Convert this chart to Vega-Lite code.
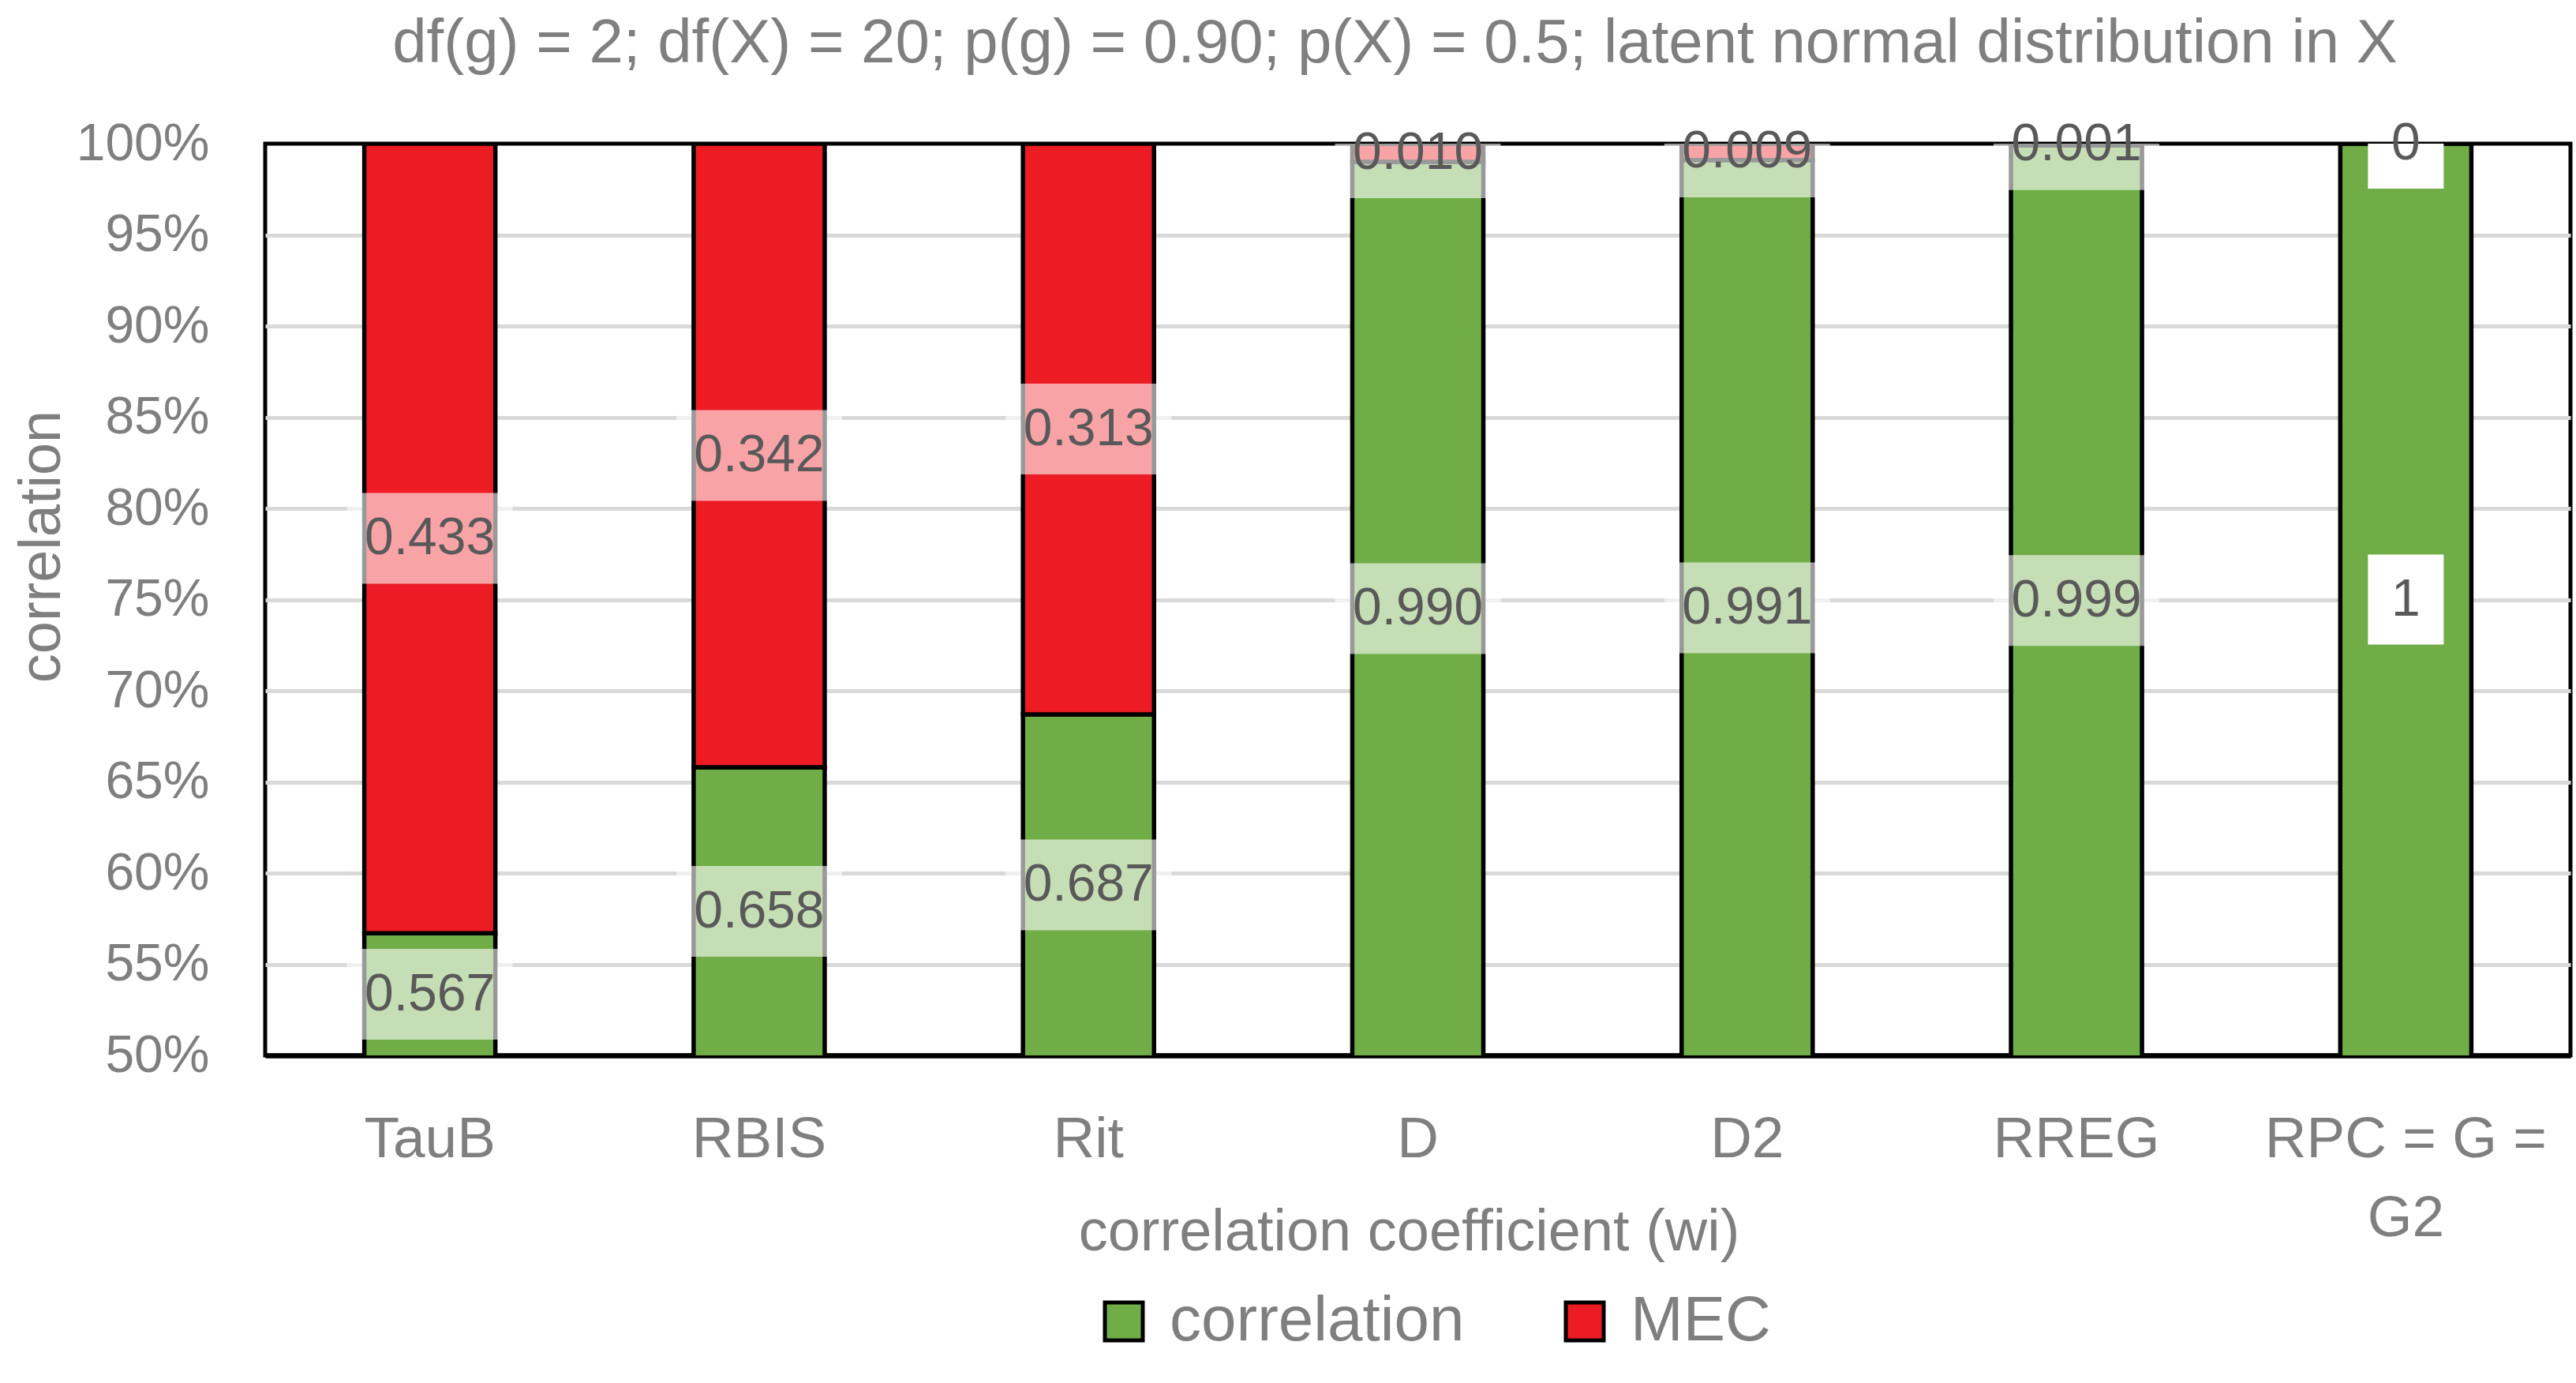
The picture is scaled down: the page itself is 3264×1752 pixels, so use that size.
{
  "$schema": "https://vega.github.io/schema/vega-lite/v6.json",
  "width": 2921,
  "height": 1155,
  "autosize": {"type": "none"},
  "padding": {"left": 336, "top": 182, "right": 7, "bottom": 415},
  "background": "white",
  "title": {
    "text": "df(g) = 2; df(X) = 20; p(g) = 0.90; p(X) = 0.5; latent normal distribution in X",
    "font": "Liberation Sans",
    "fontSize": 78,
    "fontWeight": "normal",
    "color": "#7f7f7f",
    "anchor": "middle",
    "baseline": "alphabetic",
    "offset": 60,
    "dx": -29,
    "dy": 68
  },
  "data": {
    "values": [
      {"coef": "TauB", "correlation": 0.567, "MEC": 0.433},
      {"coef": "RBIS", "correlation": 0.658, "MEC": 0.342},
      {"coef": "Rit", "correlation": 0.687, "MEC": 0.313},
      {"coef": "D", "correlation": 0.990, "MEC": 0.010},
      {"coef": "D2", "correlation": 0.991, "MEC": 0.009},
      {"coef": "RREG", "correlation": 0.999, "MEC": 0.001},
      {"coef": "RPC = G = G2", "correlation": 1, "MEC": 0}
    ]
  },
  "transform": [
    {"fold": ["correlation", "MEC"], "as": ["series", "value"]},
    {"stack": "value", "groupby": ["coef"], "sort": [{"field": "series", "order": "descending"}], "as": ["lo", "hi"]},
    {"calculate": "(max(datum.lo, 0.5) + datum.hi) / 2", "as": "mid"}
  ],
  "layer": [
    {
      "mark": {"type": "bar", "stroke": "black", "strokeWidth": 5.5, "clip": true},
      "encoding": {
        "x": {
          "field": "coef",
          "type": "nominal",
          "sort": null,
          "scale": {"paddingInner": 0.602, "paddingOuter": 0.301},
          "axis": {
            "title": "correlation coefficient (wi)",
            "labelAngle": 0,
            "labelFontSize": 73,
            "labelLimit": 0,
            "labelPadding": 70,
            "labelLineHeight": 100,
            "labelExpr": "datum.label === 'RPC = G = G2' ? ['RPC = G =', 'G2'] : datum.label",
            "ticks": false,
            "domain": true,
            "domainColor": "black",
            "domainWidth": 6.5,
            "titleFontSize": 74,
            "titleBaseline": "alphabetic",
            "titleY": 246,
            "titleX": 1449
          }
        },
        "y": {
          "field": "lo",
          "type": "quantitative",
          "scale": {"domain": [0.5, 1], "nice": false, "zero": false},
          "axis": {
            "title": "correlation",
            "format": ".0%",
            "values": [0.5, 0.55, 0.6, 0.65, 0.7, 0.75, 0.8, 0.85, 0.9, 0.95, 1],
            "labelFontSize": 66,
            "labelLimit": 0,
            "labelPadding": 71,
            "ticks": false,
            "domain": false,
            "grid": true,
            "gridColor": "#d9d9d9",
            "gridWidth": 5,
            "gridOpacity": {"condition": {"test": "datum.value < 0.51 || datum.value > 0.99", "value": 0}, "value": 1},
            "titleFontSize": 74,
            "titleAngle": 270,
            "titleAlign": "center",
            "titleBaseline": "alphabetic",
            "titleX": -261,
            "titleY": 510
          }
        },
        "y2": {"field": "hi"},
        "color": {
          "field": "series",
          "type": "nominal",
          "scale": {"domain": ["correlation", "MEC"], "range": ["#70ad47", "#ed1c24"]},
          "legend": {
            "title": null,
            "orient": "none",
            "direction": "horizontal",
            "legendX": 1048,
            "legendY": 1452,
            "padding": 0,
            "symbolType": "square",
            "symbolSize": 2304,
            "symbolStrokeColor": "black",
            "symbolStrokeWidth": 5,
            "labelFontSize": 80,
            "labelLimit": 0,
            "labelOffset": 18,
            "columnPadding": 112
          }
        }
      }
    },
    {
      "mark": {"type": "point", "filled": true, "fill": "white", "strokeWidth": 0, "clip": true},
      "encoding": {
        "x": {"field": "coef", "type": "nominal", "sort": null},
        "y": {"field": "mid", "type": "quantitative", "title": "correlation"},
        "shape": {
          "condition": {"test": "datum.coef === 'RPC = G = G2'", "value": "M-1,-1.1875H1V1.1875H-1Z"},
          "value": "M-1,-0.5476H1V0.5476H-1Z"
        },
        "size": {
          "condition": {"test": "datum.coef === 'RPC = G = G2'", "value": 9216},
          "value": 44100
        },
        "opacity": {
          "condition": {"test": "datum.coef === 'RPC = G = G2'", "value": 1},
          "value": 0.6
        }
      }
    },
    {
      "mark": {
        "type": "text",
        "font": "Liberation Sans",
        "fontSize": 66,
        "color": "#595959",
        "baseline": "middle",
        "align": "center"
      },
      "encoding": {
        "x": {"field": "coef", "type": "nominal", "sort": null},
        "y": {"field": "mid", "type": "quantitative", "title": "correlation"},
        "text": {
          "condition": [
            {"test": "datum.value === 1", "value": "1"},
            {"test": "datum.value === 0", "value": "0"}
          ],
          "field": "value",
          "type": "quantitative",
          "format": ".3f"
        }
      }
    }
  ],
  "config": {
    "view": {"stroke": "black", "strokeWidth": 5},
    "axis": {
      "labelFont": "Liberation Sans",
      "titleFont": "Liberation Sans",
      "labelColor": "#7f7f7f",
      "titleColor": "#7f7f7f",
      "titleFontWeight": "normal"
    },
    "legend": {
      "labelFont": "Liberation Sans",
      "labelColor": "#7f7f7f"
    }
  }
}
